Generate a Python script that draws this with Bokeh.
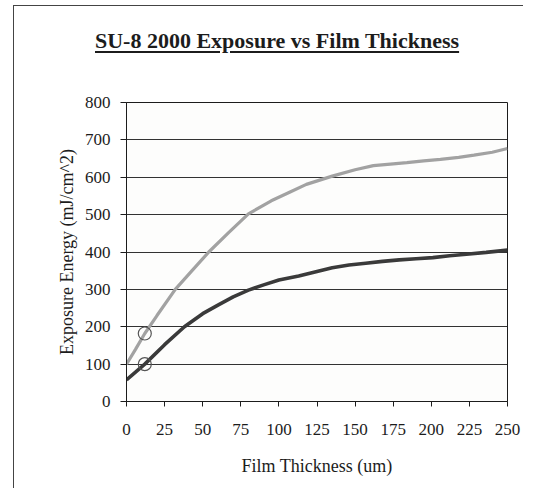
from bokeh.plotting import figure
from bokeh.models import Range1d, FixedTicker, Div
from bokeh.layouts import column
from bokeh.embed import file_html
from bokeh.resources import INLINE

# ---- data ----
gray_x = [0, 6, 12, 20, 32, 43, 54, 67, 80, 95, 107, 118, 135, 150, 162, 175, 184, 195, 206, 218, 228, 240, 250]
gray_y = [100, 140, 182, 230, 300, 350, 400, 452, 502, 537, 560, 581, 603, 620, 631, 636, 639, 644, 648, 653, 659, 667, 677]

dark_x = [0, 12, 25, 38, 50, 60, 70, 80, 90, 100, 113, 125, 135, 146, 157, 168, 179, 190, 201, 212, 223, 236, 250]
dark_y = [58, 100, 152, 200, 235, 258, 280, 298, 312, 325, 336, 348, 358, 365, 370, 375, 379, 382, 385, 390, 394, 399, 405]

mark_x = [12, 12]
mark_y = [182, 100]

x_ticks = [0, 25, 50, 75, 100, 125, 150, 175, 200, 225, 250]
y_ticks = [0, 100, 200, 300, 400, 500, 600, 700, 800]

title_text = "SU-8 2000 Exposure vs Film Thickness"
x_label = "Film Thickness (um)"
y_label = "Exposure Energy (mJ/cm^2)"

FONT = "Liberation Serif"
INK = "#1c1c1c"

title_html = ('<span style="text-decoration: underline; text-decoration-thickness: 1.5px; '
              'text-underline-offset: 3px;">' + title_text + '</span>')

title_div = Div(text=title_html, width=510, height=55, margin=0,
                styles={"font-family": FONT, "font-size": "22px", "font-weight": "bold",
                        "line-height": "22px", "color": INK, "padding-left": "82px",
                        "padding-top": "25px", "box-sizing": "border-box",
                        "white-space": "nowrap"})

p = figure(width=510, height=428, output_backend="svg", toolbar_location=None,
           x_range=Range1d(0, 250), y_range=Range1d(0, 800),
           min_border_left=113, min_border_right=16, min_border_top=42, min_border_bottom=87,
           background_fill_color="#fdfdfc", border_fill_color=None,
           outline_line_color=INK, outline_line_width=1, margin=0)

# axes
p.xaxis.ticker = FixedTicker(ticks=x_ticks)
p.yaxis.ticker = FixedTicker(ticks=y_ticks)
for ax in (p.xaxis, p.yaxis):
    ax.major_label_text_font = FONT
    ax.major_label_text_font_size = "17px"
    ax.major_label_text_color = INK
    ax.axis_label_text_font = FONT
    ax.axis_label_text_font_size = "18px"
    ax.axis_label_text_font_style = "normal"
    ax.axis_label_text_color = INK
    ax.axis_line_color = INK
    ax.major_tick_line_color = INK
    ax.minor_tick_line_color = None
    ax.major_tick_in = 0
p.xaxis.major_tick_out = 5
p.yaxis.major_tick_out = 6
p.xaxis.major_label_standoff = 17
p.yaxis.major_label_standoff = 10
p.xaxis.axis_label = x_label
p.yaxis.axis_label = y_label
p.xaxis.axis_label_standoff = 18
p.yaxis.axis_label_standoff = 5

p.xgrid.grid_line_color = None
p.ygrid.ticker = FixedTicker(ticks=y_ticks)
p.ygrid.grid_line_color = INK
p.ygrid.grid_line_width = 1
p.ygrid.grid_line_alpha = 0.9

# curves
p.line(gray_x, gray_y, line_color="#a2a2a2", line_width=3.2)
p.line(dark_x, dark_y, line_color="#3a3a3a", line_width=3.6)

# hand-drawn circles on the curves
p.scatter(mark_x, mark_y, marker="circle", size=13, fill_color=None,
          line_color="#555555", line_width=1.2)

layout = column(title_div, p, spacing=0, margin=(5, 0, 0, 13),
                styles={"box-shadow": "inset 1px 1px 0 #444444"})

open("out.html", "w").write(file_html(layout, INLINE))
